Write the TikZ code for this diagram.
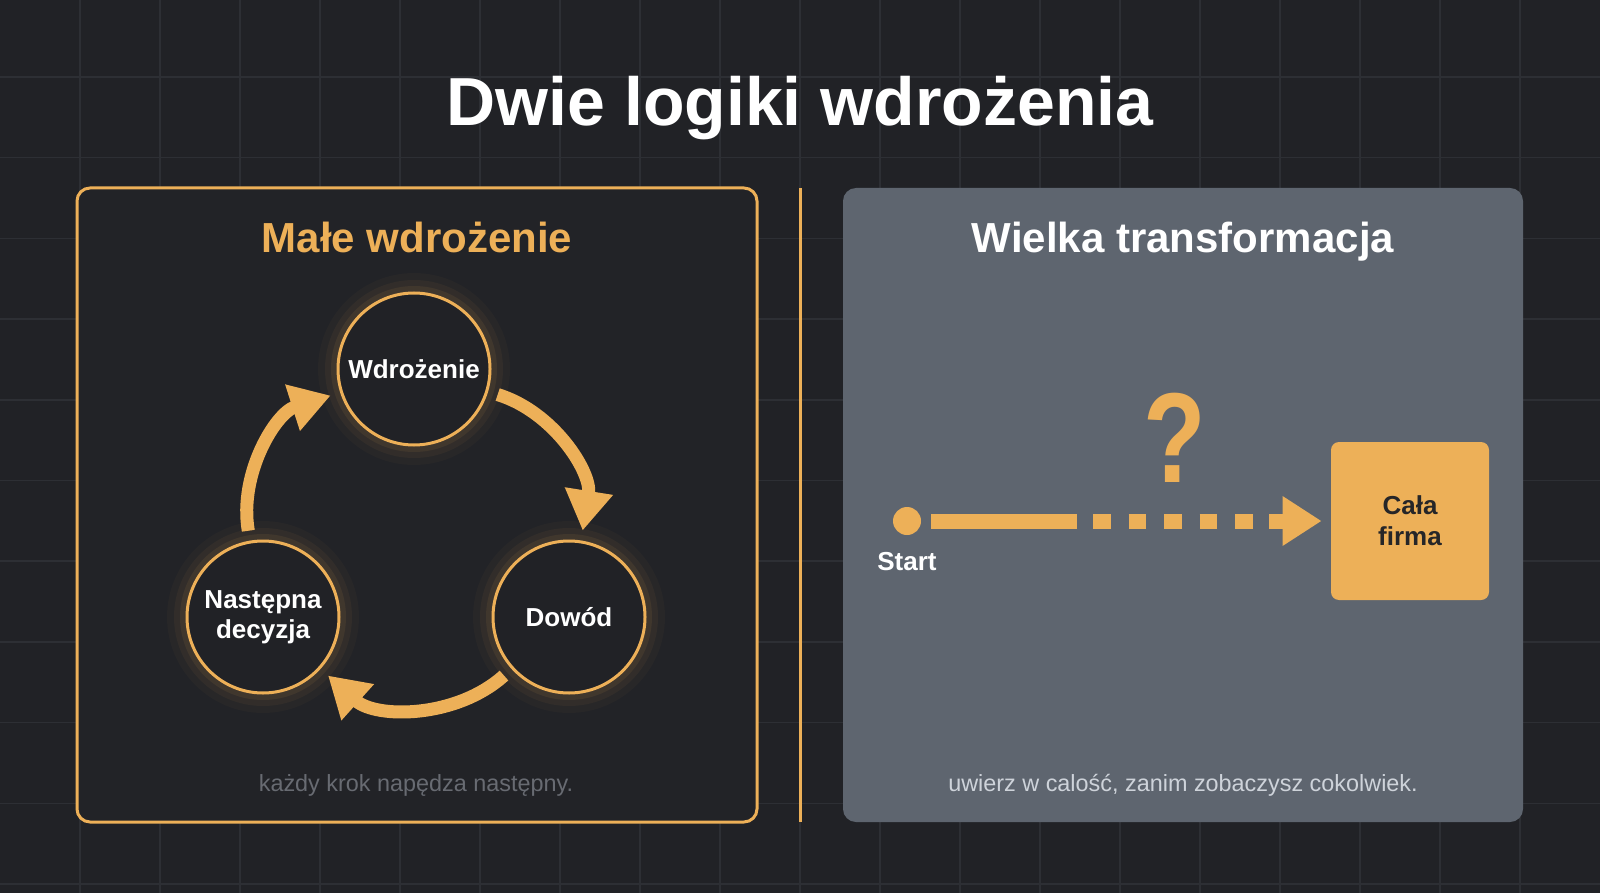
\documentclass[tikz,border=0pt]{standalone}
\usepackage{fontspec}
\setmainfont{Liberation Sans}
\usepackage{tikz}
\usetikzlibrary{arrows.meta}
\definecolor{hintergrund}{RGB}{33,34,38}
\definecolor{raster}{RGB}{45,47,52}
\definecolor{feldL}{RGB}{34,35,39}
\definecolor{feldR}{RGB}{94,101,111}
\definecolor{orng}{RGB}{237,176,88}
\definecolor{grauL}{RGB}{104,107,114}
\definecolor{grauR}{RGB}{206,211,218}
\definecolor{dunkel}{RGB}{38,38,40}
\newcommand{\fs}[2]{\fontsize{#1}{#2}\selectfont}

\begin{document}
\begin{tikzpicture}[x=0.5pt, y=-0.5pt,
    kreis/.style={circle, draw=orng, line width=1.5pt, fill=hintergrund, minimum size=76pt, inner sep=0pt,
        text=white, align=center, font=\bfseries\fs{13}{15},
        preaction={draw=orng, draw opacity=.03, line width=20pt},
        preaction={draw=orng, draw opacity=.05, line width=13pt},
        preaction={draw=orng, draw opacity=.08, line width=7pt}},
    pfeil/.style={draw=orng, line width=6.5pt, -{Triangle[length=20pt, width=23pt]}, shorten <=5pt, shorten >=5pt},
    linie/.style={draw=orng, line width=7.5pt}]
    \useasboundingbox (0,0) rectangle (1600,893);
    % Hintergrund.
    \fill[hintergrund] (0,0) rectangle (1600,893);
    \foreach \x in {80,160,...,1520}
    {
        \draw[raster, line width=0.75pt] (\x,0) -- (\x,893);
    }
    \foreach \i in {0,...,10}
    {
        \draw[raster, line width=0.75pt] (0,{77+80.7*\i}) -- (1600,{77+80.7*\i});
    }

    % Felder.
    \draw[orng, line width=1.5pt, fill=feldL, rounded corners=6.5pt] (77,188) rectangle (757,822);
    \fill[feldR, rounded corners=6.5pt] (843,188) rectangle (1523,822);
    \draw[orng, line width=1.5pt] (800,188) -- (800,822);

    % Kreislauf.
    \node[kreis] (wdr) at (414,369) {Wdrożenie};
    \node[kreis] (dow) at (569,617) {Dowód};
    \node[kreis] (nast) at (263,617) {Następna\\decyzja};
    \draw[pfeil] (wdr) to[bend left=41] (dow);
    \draw[pfeil] (dow) to[bend left=42] (nast);
    \draw[pfeil] (nast) to[bend left=41] (wdr);

    % Weg.
    \node[circle, fill=orng, minimum size=14pt, inner sep=0pt] (start) at (907,521) {};
    \node[fill=orng, rounded corners=4pt, minimum size=79pt, inner sep=0pt, align=center,
        text=dunkel, font=\bfseries\fs{13}{15.5}] (firma) at (1410,521) {Cała\\firma};
    \coordinate (s1) at (1077,521);
    \coordinate (p1) at (1093,521);
    \coordinate (p2) at (1253,521);
    \coordinate (s2) at (1269,521);
    \draw[linie, shorten <=5pt] (start) -- (s1);
    \draw[linie, dash pattern=on 8.75pt off 9pt] (p1) -- (p2);
    \draw[linie, -{Triangle[length=19.5pt, width=23.5pt]}, shorten >=4.5pt] (s2) -- (firma);
    \node[anchor=base, text=orng, font=\bfseries\fs{64}{70}] (frage) at (1175,482) {\scalebox{0.8}[1]{?}};

    % Beschriftung.
    \node[anchor=base, text=white, font=\bfseries\fs{34}{40}] (titel) at (800,126) {Dwie logiki wdrożenia};
    \node[anchor=base, text=orng, font=\bfseries\fs{21}{25}] (titelL) at (417,253) {Małe wdrożenie};
    \node[anchor=base, text=white, font=\bfseries\fs{21}{25}] (titelR) at (1183,253) {Wielka transformacja};
    \node[anchor=base, text=white, font=\bfseries\fs{13}{15}] (startlbl) at (907,570) {Start};
    \node[anchor=base, text=grauL, font=\fs{11.7}{14}] (untenL) at (416,791) {każdy krok napędza następny.};
    \node[anchor=base, text=grauR, font=\fs{11.7}{14}] (untenR) at (1183,791) {uwierz w calość, zanim zobaczysz cokolwiek.};
\end{tikzpicture}
\end{document}
